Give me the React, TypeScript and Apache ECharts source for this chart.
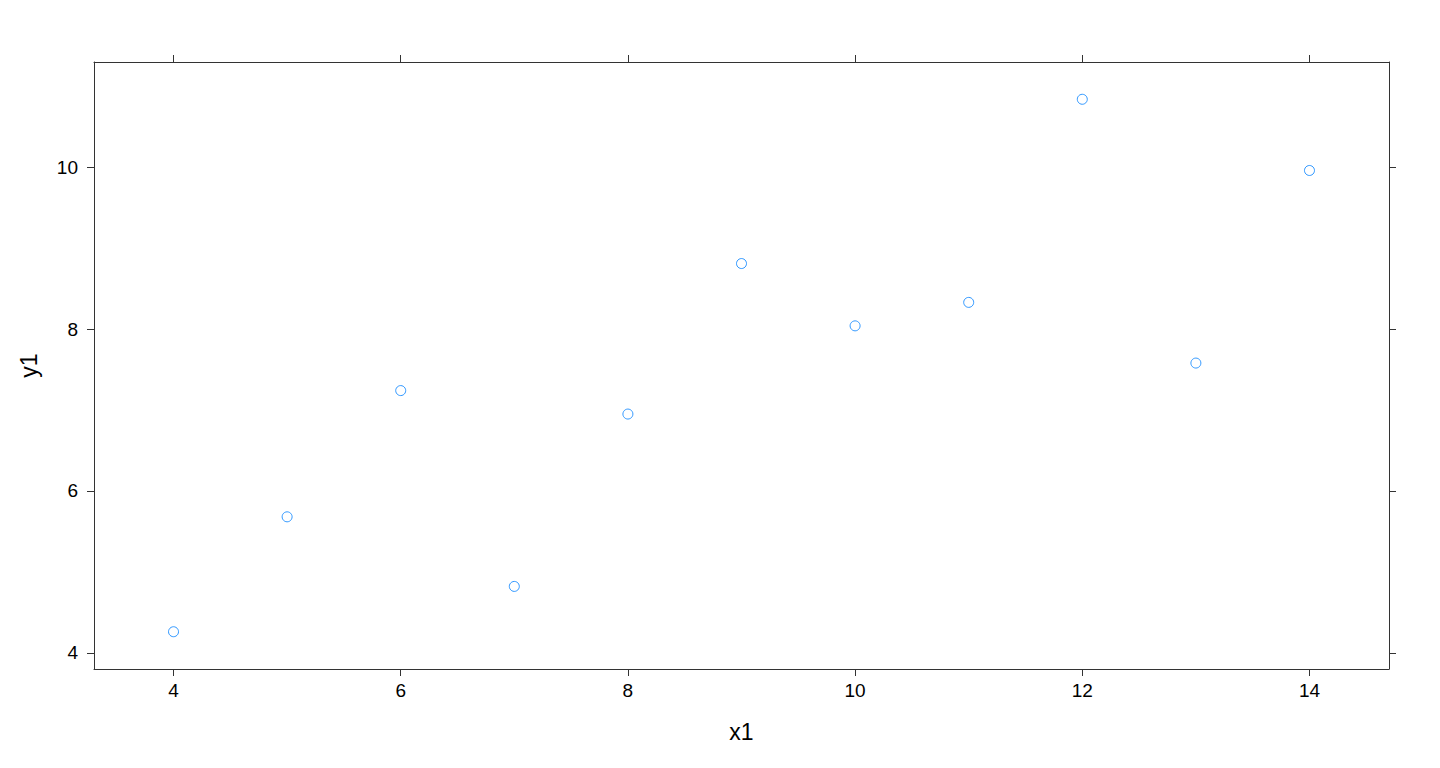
import { useEffect, useRef } from "react";
import * as echarts from "echarts";

// Anscombe set 1
const x1 = [10, 8, 13, 9, 11, 14, 6, 4, 12, 7, 5];
const y1 = [8.04, 6.95, 7.58, 8.81, 8.33, 9.96, 7.24, 4.26, 10.84, 4.82, 5.68];

const xTicks = [4, 6, 8, 10, 12, 14];
const yTicks = [4, 6, 8, 10];

const FONT = "Liberation Sans, Arial, sans-serif";

function App() {
  const chartRef = useRef<HTMLDivElement>(null);

  useEffect(() => {
    if (!chartRef.current) return;
    const myChart = echarts.init(chartRef.current, null, { renderer: "svg" });

    const xPad = (14 - 4) * 0.07;
    const yPad = (10.84 - 4.26) * 0.07;

    const lineStyle = { color: "#333", width: 1 };
    const tickStyle = { length: 7, inside: false, lineStyle: { color: "#333", width: 1 } };

    const xBase = {
      type: "value",
      min: 4 - xPad,
      max: 14 + xPad,
      splitLine: { show: false },
      axisLine: { show: true, onZero: false, lineStyle },
    };
    const yBase = {
      type: "value",
      min: 4.26 - yPad,
      max: 10.84 + yPad,
      splitLine: { show: false },
      axisLine: { show: true, onZero: false, lineStyle },
    };

    const option = {
      animation: false,
      grid: { left: 94, right: 51, top: 62, bottom: 99 },
      xAxis: [
        {
          ...xBase,
          position: "bottom",
          name: "x1",
          nameLocation: "middle",
          nameGap: 51,
          nameTextStyle: { fontSize: 23, color: "#000", fontFamily: FONT },
          axisTick: { ...tickStyle, customValues: xTicks },
          axisLabel: {
            customValues: xTicks,
            margin: 12,
            fontSize: 19,
            color: "#000",
            fontFamily: FONT,
          },
        },
        {
          ...xBase,
          position: "top",
          axisTick: { ...tickStyle, customValues: xTicks },
          axisLabel: { show: false },
        },
      ],
      yAxis: [
        {
          ...yBase,
          position: "left",
          name: "y1",
          nameLocation: "middle",
          nameGap: 54,
          nameRotate: 90,
          nameTextStyle: { fontSize: 23, color: "#000", fontFamily: FONT },
          axisTick: { ...tickStyle, customValues: yTicks },
          axisLabel: {
            customValues: yTicks,
            margin: 16,
            fontSize: 19,
            color: "#000",
            fontFamily: FONT,
          },
        },
        {
          ...yBase,
          position: "right",
          axisTick: { ...tickStyle, customValues: yTicks },
          axisLabel: { show: false },
        },
      ],
      series: [
        {
          type: "scatter",
          data: x1.map((x, i) => [x, y1[i]]),
          symbol: "circle",
          symbolSize: 10,
          itemStyle: { color: "rgba(0,0,0,0)", borderColor: "#0080ff", borderWidth: 1 },
        },
      ],
    };

    myChart.setOption(option, true);

    return () => {
      myChart.dispose();
    };
  }, []);

  return (
    <div
      ref={chartRef}
      style={{ position: "fixed", left: 0, top: 0, width: "1440px", height: "768px", background: "#fff" }}
    />
  );
}

export default App;
